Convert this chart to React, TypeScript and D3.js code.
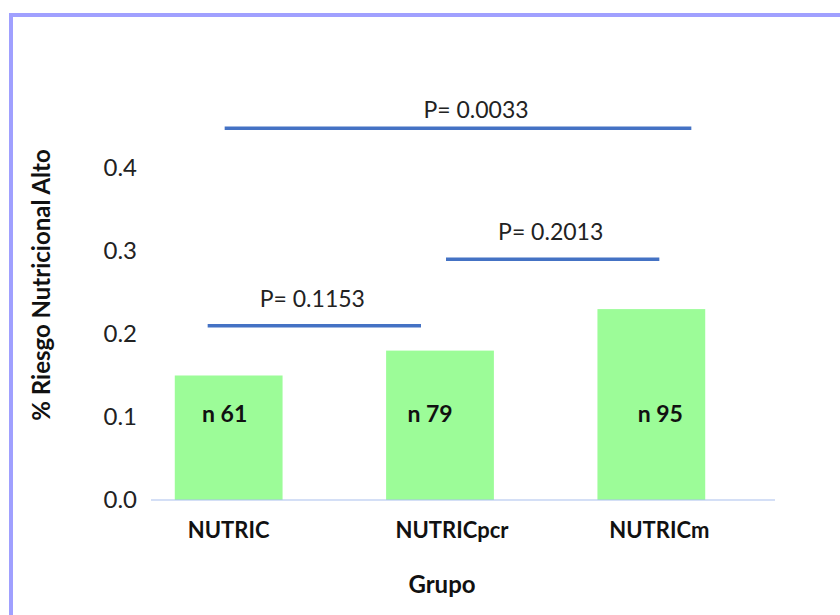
import React from "react";
import * as d3 from "d3";

const categories = ["NUTRIC", "NUTRICpcr", "NUTRICm"];
const values = [0.15, 0.18, 0.23];
const nLabels = ["n 61", "n 79", "n 95"];
const yTicks = [0.0, 0.1, 0.2, 0.3, 0.4];
const compFrom = [0, 1, 0];
const compTo = [1, 2, 2];
const compLevel = [0.21, 0.29, 0.448];
const compLabel = ["P= 0.1153", "P= 0.2013", "P= 0.0033"];

// layout tweaks (pixels) for bracket ends and label placement
const bracketLayout = [
  { dx1: -21, dx2: -19, ldx: -2, ldy: -27 },
  { dx1: 6, dx2: 8, ldx: -2, ldy: -27 },
  { dx1: -4, dx2: 40, ldx: 18, ldy: -18 },
];
const nLabelDx = [-4, -10, 9];
const catLabelDx = [0, 12, 8];

const FONT = "Lato, 'Open Sans', sans-serif";

export default function App() {
  const y = d3.scaleLinear().domain([0, 0.4]).range([500, 168]);
  const x = d3
    .scaleBand<string>()
    .domain(categories)
    .range([123, 757])
    .paddingInner(0.49)
    .paddingOuter(0.245);
  const bw = x.bandwidth();
  const cx = (i: number) => (x(categories[i]) as number) + bw / 2;

  return (
    <svg
      width={840}
      height={615}
      style={{ position: "absolute", left: 0, top: 0, background: "#fff" }}
    >
      <rect x={11} y={15} width={900} height={700} fill="#fff" stroke="#a0a0ff" strokeWidth={4} />
      {values.map((v, i) => (
        <rect
          key={i}
          x={x(categories[i])}
          y={y(v)}
          width={bw}
          height={y(0) - y(v)}
          fill="#9cfc98"
        />
      ))}
      <line x1={151} x2={775} y1={y(0)} y2={y(0)} stroke="#a9bfee" strokeWidth={1.2} />
      {yTicks.map((t) => (
        <text
          key={t}
          x={137}
          y={y(t)}
          dy="0.35em"
          textAnchor="end"
          fontFamily={FONT}
          fontSize={24}
          fill="#222"
        >
          {d3.format(".1f")(t)}
        </text>
      ))}
      {values.map((v, i) => (
        <text
          key={i}
          x={cx(i) + nLabelDx[i]}
          y={414}
          dy="0.35em"
          textAnchor="middle"
          fontFamily={FONT}
          fontWeight="bold"
          fontSize={23}
          fill="#111"
        >
          {nLabels[i]}
        </text>
      ))}
      {categories.map((c, i) => (
        <text
          key={c}
          x={cx(i) + catLabelDx[i]}
          y={530}
          dy="0.35em"
          textAnchor="middle"
          fontFamily={FONT}
          fontWeight="bold"
          fontSize={22}
          fill="#111"
        >
          {c}
        </text>
      ))}
      <text
        x={442}
        y={585}
        dy="0.35em"
        textAnchor="middle"
        fontFamily={FONT}
        fontWeight="bold"
        fontSize={24}
        fill="#111"
      >
        Grupo
      </text>
      <text
        transform={`translate(42,285) rotate(-90)`}
        textAnchor="middle"
        dy="0.35em"
        fontFamily={FONT}
        fontWeight="bold"
        fontSize={24}
        fill="#111"
      >
        % Riesgo Nutricional Alto
      </text>
      {compLevel.map((lv, i) => {
        const L = bracketLayout[i];
        const x1 = cx(compFrom[i]) + L.dx1;
        const x2 = cx(compTo[i]) + L.dx2;
        return (
          <g key={i}>
            <line x1={x1} x2={x2} y1={y(lv)} y2={y(lv)} stroke="#4472c4" strokeWidth={3.5} />
            <text
              x={(x1 + x2) / 2 + L.ldx}
              y={y(lv) + L.ldy}
              dy="0.35em"
              textAnchor="middle"
              fontFamily={FONT}
              fontSize={23}
              fill="#222"
            >
              {compLabel[i]}
            </text>
          </g>
        );
      })}
    </svg>
  );
}
